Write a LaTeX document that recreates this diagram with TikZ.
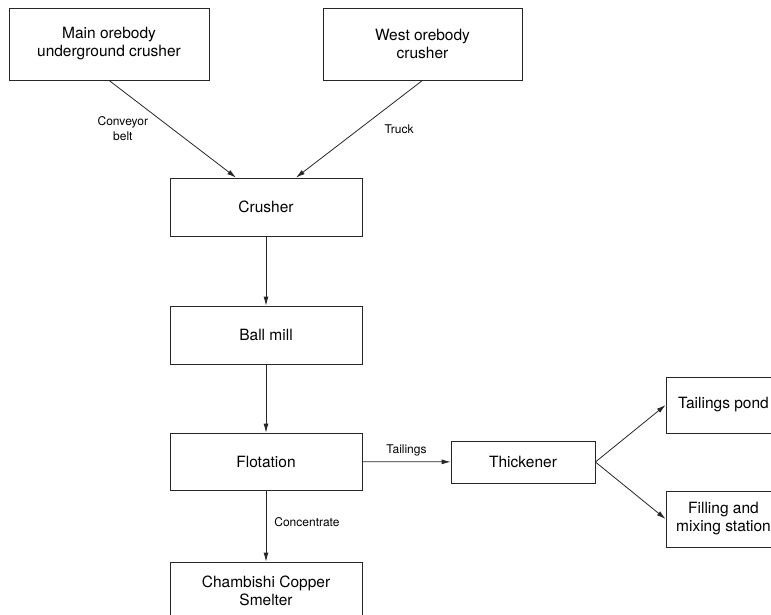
\documentclass[tikz,border=0pt]{standalone}
\usepackage{fontspec}
\setmainfont{TeX Gyre Heros}
\usetikzlibrary{arrows.meta, positioning}

\begin{document}
\begin{tikzpicture}[x=1pt, y=-1pt, >={Latex[length=9pt, width=5pt]},
    line width=0.8pt, draw=black!85,
    box/.style={draw, rectangle, align=center, inner sep=2pt, font=\fontsize{15.5}{18}\selectfont},
    lbl/.style={font=\fontsize{12}{15}\selectfont, align=center, inner sep=2pt}]
        \useasboundingbox (0,0) rectangle (771,615);
        \clip (0,0) rectangle (771,615);
        % Boxes
        \node[box, minimum width=200pt, minimum height=72pt] (main) at (109, 44) {Main orebody\\underground crusher};
        \node[box, minimum width=199pt, minimum height=72pt] (west) at (422.5, 44) {West orebody\\crusher};
        \node[box, minimum width=192pt, minimum height=58pt] (crusher) at (266, 207) {Crusher};
        \node[box, minimum width=192pt, minimum height=58pt] (ball) at (266, 335) {Ball mill};
        \node[box, minimum width=192pt, minimum height=57pt] (flot) at (266, 461.5) {Flotation};
        \node[box, minimum width=192pt, minimum height=58pt] (smelter) at (266, 591) {Chambishi Copper\\Smelter};
        \node[box, minimum width=144pt, minimum height=42pt] (thick) at (523, 462) {Thickener};
        \node[box, minimum width=115pt, minimum height=56pt] (pond) at (723.5, 405) {Tailings pond};
        \node[box, minimum width=115pt, minimum height=56pt] (fill) at (723.5, 519) {Filling and\\mixing station};

        % Flows
        \draw[->] (main.south) -- ([xshift=-30pt]crusher.north) node[midway, left=22pt, lbl] {Conveyor\\belt};
        \draw[->] (west.south) -- ([xshift=30pt]crusher.north) node[midway, right=23pt, lbl] {Truck};
        \draw[->] (crusher) -- (ball);
        \draw[->] (ball) -- (flot);
        \draw[->] (flot) -- (thick) node[midway, above=3pt, lbl] {Tailings};
        \draw[->] (flot) -- (smelter) node[pos=0.45, right=6pt, lbl] {Concentrate};
        \draw[->] (thick.east) -- (pond.west);
        \draw[->] (thick.east) -- (fill.west);
    \end{tikzpicture}
\end{document}
